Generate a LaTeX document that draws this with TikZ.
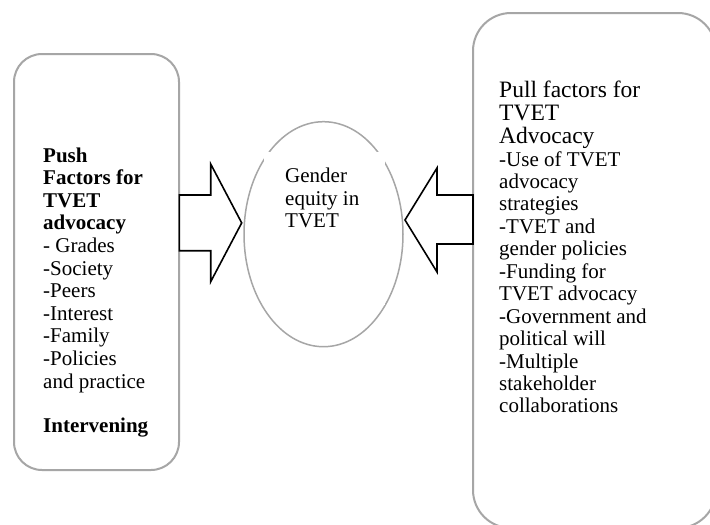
\documentclass[tikz,border=0pt]{standalone}
\usepackage{fontspec}
\setmainfont{Liberation Serif}
\usetikzlibrary{shapes.geometric}
\definecolor{boxgray}{HTML}{A6A6A6}
\begin{document}
\begin{tikzpicture}[x=1pt,y=-1pt,
  framebox/.style={draw=boxgray, line width=2pt, inner sep=0pt},
  goalshape/.style={ellipse, draw=boxgray, line width=1.5pt, inner sep=0pt},
  blockarr/.style={draw=black, line width=1.6pt, line join=miter, fill=white},
  txt/.style={inner sep=0pt, anchor=base west}]
\useasboundingbox (0,0) rectangle (710,525);
\fill[white] (0,0) rectangle (710,525);
% left box
\node[framebox, rounded corners=28pt, minimum width=165pt, minimum height=416pt] (push) at (96.5,262) {};
% right box (runs past the picture edge)
\begin{scope}
\clip (0,0) rectangle (710,525);
\node[framebox, rounded corners=38pt, minimum width=243pt, minimum height=515pt] (pull) at (594.5,270.5) {};
\end{scope}
% centre ellipse
\node[goalshape, minimum width=159pt, minimum height=225pt] (goal) at (323.5,234.2) {};
\fill[white] (264,152) rectangle (385,305);
% block arrows
\draw[blockarr] (179.3,195) -- (210.7,195) -- (210.7,164) -- (241.7,222.9) -- (210.7,281.7) -- (210.7,250.7) -- (179.3,250.7) -- cycle;
\draw[blockarr] (473,195) -- (437,195) -- (437,168) -- (405,220) -- (437,272) -- (437,244) -- (473,244) -- cycle;
% texts
\node[txt] (pushtxt) at (43,162) {\parbox[t]{140pt}{\raggedright\fontsize{21}{22.6}\selectfont
  {\bfseries Push\\Factors for\\TVET\\advocacy}\\- Grades\\-Society\\-Peers\\-Interest\\-Family\\-Policies\\and practice}};
\node[txt] (interv) at (43,432) {\fontsize{21}{22.6}\selectfont\bfseries Intervening};
\node[txt] (goaltxt) at (285,182.5) {\parbox[t]{110pt}{\raggedright\fontsize{21}{22.5}\selectfont
  Gender\\equity in\\TVET}};
\node[txt] (pulltitle) at (499,97.5) {\parbox[t]{200pt}{\raggedright\fontsize{23.5}{23.2}\selectfont
  Pull factors for\\TVET\\Advocacy}};
\node[txt] (pulltxt) at (499,166) {\parbox[t]{200pt}{\raggedright\fontsize{21}{22.45}\selectfont
  -Use of TVET\\advocacy\\strategies\\-TVET and\\gender policies\\-Funding for\\TVET advocacy\\-Government and\\political will\\-Multiple\\stakeholder\\collaborations}};
\end{tikzpicture}
\end{document}
